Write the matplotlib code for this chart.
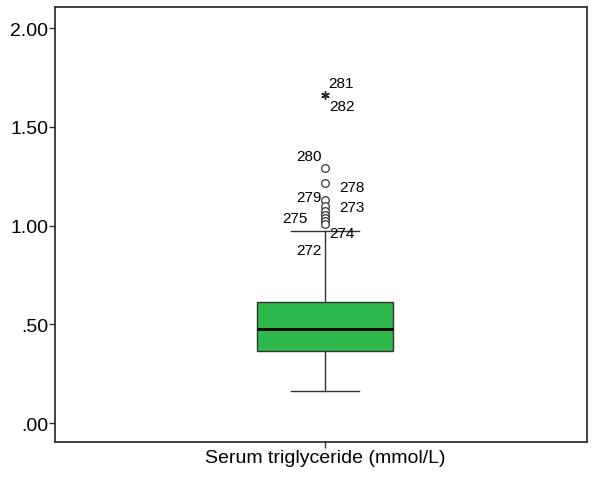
"""
SPSS 风格箱线图：血清甘油三酯 (mmol/L)
"""

import matplotlib
matplotlib.use('Agg')
import matplotlib.pyplot as plt

plt.rcParams['font.family'] = ['Liberation Sans', 'DejaVu Sans']

# 箱线图统计量
category = 'Serum triglyceride (mmol/L)'
whisker_low = 0.164
q1 = 0.366
median = 0.474
q3 = 0.615
whisker_high = 0.972

# 离群值 (圆圈) 及其编号
outlier_ids = [280, 278, 279, 273, 277, 276, 275, 274, 272]
outlier_vals = [1.291, 1.215, 1.127, 1.100, 1.075, 1.052, 1.036, 1.022, 1.010]

# 极端值 (星号)
extreme_ids = [281, 282]
extreme_vals = [1.660, 1.660]

# 标签偏移 (像素)，未列出的不标注
label_offsets = {
    280: (-16, 12), 278: (27, -4), 279: (-16, 3), 273: (27, -1),
    275: (-30, 0), 274: (17, -12), 272: (-16, -26),
    281: (16, 12), 282: (17, -11),
}

yticks = [0.0, 0.5, 1.0, 1.5, 2.0]
ytick_labels = ['.00', '.50', '1.00', '1.50', '2.00']

fig = plt.figure(figsize=(6.02, 4.81), dpi=100)
ax = fig.add_axes([0.0914, 0.079, 0.884, 0.904])

stats = [dict(med=median, q1=q1, q3=q3, whislo=whisker_low,
              whishi=whisker_high, fliers=[], label=category)]
ax.bxp(stats, positions=[1], widths=0.256, capwidths=0.128,
       patch_artist=True,
       boxprops=dict(facecolor='#2fb84b', edgecolor='#333333', linewidth=1.0),
       medianprops=dict(color='black', linewidth=2.0),
       whiskerprops=dict(color='#333333', linewidth=1.0),
       capprops=dict(color='#333333', linewidth=1.0))

ax.plot([1] * len(outlier_vals), outlier_vals, linestyle='none', marker='o',
        markersize=5.5, markerfacecolor='white', markeredgecolor='#333333',
        markeredgewidth=0.9)
ax.plot([1] * len(extreme_vals), extreme_vals, linestyle='none',
        marker=(6, 2, 0), markersize=6, color='#222222', markeredgewidth=0.9)

for pid, val in zip(outlier_ids + extreme_ids, outlier_vals + extreme_vals):
    if pid in label_offsets:
        dx, dy = label_offsets[pid]
        ax.annotate(str(pid), (1, val), xytext=(dx * 0.72, dy * 0.72),
                    textcoords='offset points', ha='center', va='center',
                    fontsize=11, color='black')

ax.set_xlim(0.492, 1.492)
ax.set_ylim(-0.096, 2.106)
ax.set_yticks(yticks)
ax.set_yticklabels(ytick_labels, fontsize=14)
ax.set_xticks([1])
ax.set_xticklabels([category], fontsize=14)
ax.tick_params(axis='both', direction='out', length=4, width=1.0,
               color='#333333', pad=1)
for spine in ax.spines.values():
    spine.set_color('#333333')
    spine.set_linewidth(1.3)

fig.savefig('out.png', dpi=100)
